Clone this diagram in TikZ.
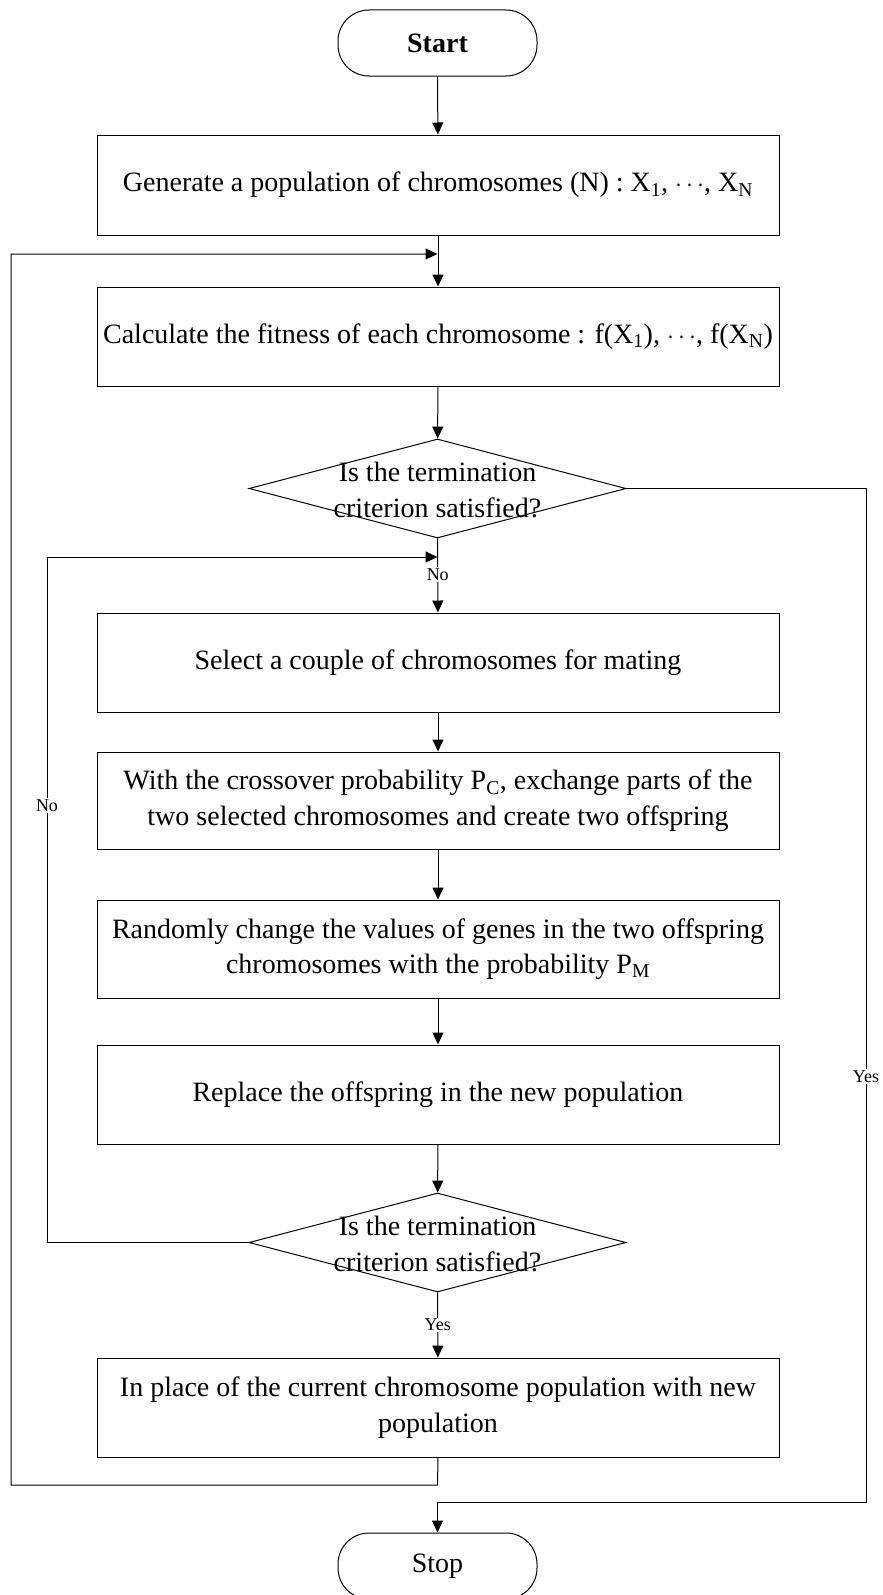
\documentclass[tikz,border=0pt]{standalone}
\usepackage{fontspec}
\setmainfont{Liberation Serif}
\usetikzlibrary{shapes.geometric,arrows.meta}
\begin{document}
\begin{tikzpicture}[x=1pt,y=-1pt,
  every node/.style={font=\fontsize{28}{35.5}\selectfont},
  flow/.style={line width=1pt,draw=black},
  arr/.style={flow,-{Triangle[length=12pt,width=11pt]}},
  procbox/.style={draw,line width=1pt,minimum width=682pt,inner sep=0pt,align=center},
  term/.style={draw,line width=1pt,rounded corners=31pt,minimum width=199pt,minimum height=66pt,inner sep=0pt},
  decide/.style={draw,line width=1pt,diamond,minimum width=377pt,minimum height=99pt,inner sep=0pt},
  lbl/.style={fill=white,inner sep=1.5pt,font=\fontsize{18}{20}\selectfont}]
\useasboundingbox (0,0) rectangle (883,1595);
% main column
\node[term] (start) at (437.5,43) {\textbf{Start}};
\node[procbox,minimum height=100pt] (b1) at (438,185)
  {Generate a population of chromosomes (N) : X\textsubscript{1}, $\cdots$, X\textsubscript{N}};
\node[procbox,minimum height=99pt] (b2) at (438,336.5)
  {Calculate the fitness of each chromosome : f(X\textsubscript{1}), $\cdots$, f(X\textsubscript{N})};
\node[decide] (d1) at (437.5,488.5) {};
\node[align=center] (d1t) at (437.5,490) {Is the termination\\criterion satisfied?};
\node[procbox,minimum height=99pt] (b3) at (438,662.5)
  {Select a couple of chromosomes for mating};
\node[procbox,minimum height=97pt] (b4) at (438,800.5)
  {With the crossover probability P\textsubscript{C}, exchange parts of the\\two selected chromosomes and create two offspring};
\node[procbox,minimum height=98pt] (b5) at (438,949)
  {Randomly change the values of genes in the two offspring\\chromosomes with the probability P\textsubscript{M}};
\node[procbox,minimum height=99pt] (b6) at (438,1094.5)
  {Replace the offspring in the new population};
\node[decide] (d2) at (437.5,1242.5) {};
\node[align=center] (d2t) at (437.5,1244) {Is the termination\\criterion satisfied?};
\node[procbox,minimum height=99pt] (b7) at (438,1407.5)
  {In place of the current chromosome population with new\\population};
\node[term] (stop) at (437.5,1566) {Stop};
% junction points
\coordinate (j1) at (437.5,254);
\coordinate (j2) at (437.5,557);
\coordinate (j3) at (437.5,1502);
% straight connectors
\draw[arr] (start) -- (b1);
\draw[arr] (b1) -- (b2);
\draw[arr] (b2) -- (d1);
\draw[arr] (d1) -- node[lbl,pos=0.49] (no1) {No} (b3);
\draw[arr] (b3) -- (b4);
\draw[arr] (b4) -- (b5);
\draw[arr] (b5) -- (b6);
\draw[arr] (b6) -- (d2);
\draw[arr] (d2) -- node[lbl,pos=0.5] (yes1) {Yes} (b7);
% loops
\draw[arr] (b7.south) -- (437.5,1485) -- (11,1485) -- (11,254) -- (j1);
\draw[arr] (d2.west) -- (47,1242.5) -- node[lbl,pos=0.637] (no2) {No} (47,557) -- (j2);
\draw[arr] (d1.east) -- (866,488.5) -- node[lbl,pos=0.58] (yes2) {Yes} (866,1502) -- (j3) -- (stop.north);
\end{tikzpicture}
\end{document}
